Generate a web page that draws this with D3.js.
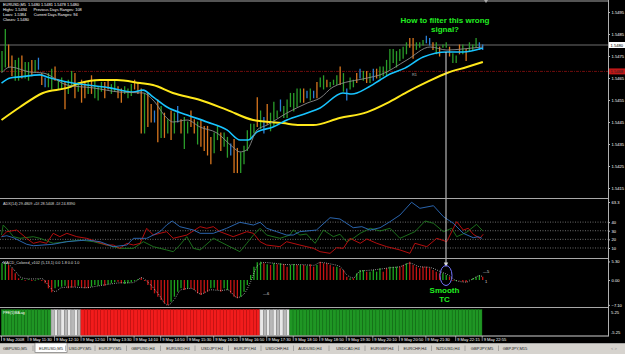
<!DOCTYPE html>
<html>
<head>
<meta charset="utf-8">
<script src="https://cdnjs.cloudflare.com/ajax/libs/d3/7.8.5/d3.min.js"></script>
<style>
body { margin: 0; background: #000; }
svg { display: block; font-family: "Liberation Sans", Arial, sans-serif; }
</style>
</head>
<body>
<svg width="625" height="354"></svg>
<script>
// EURUSD M5, 9 May 2008 - bar index 0 = 10:50
var barHigh = [
  1.5477,1.5487,1.5480,1.5475,1.5473,1.5474,1.5475,1.5472,1.5472,1.5473,
  1.5473,1.5474,1.5467,1.5465,1.5467,1.5469,1.5470,1.5464,1.5465,1.5463,
  1.5464,1.5468,1.5467,1.5463,1.5464,1.5463,1.5463,1.5466,1.5464,1.5461,
  1.5463,1.5463,1.5464,1.5462,1.5464,1.5461,1.5460,1.5461,1.5460,1.5462,
  1.5464,1.5463,1.5460,1.5458,1.5458,1.5453,1.5450,1.5455,1.5452,1.5449,
  1.5446,1.5450,1.5449,1.5452,1.5446,1.5447,1.5445,1.5450,1.5446,1.5445,
  1.5446,1.5443,1.5443,1.5438,1.5440,1.5443,1.5440,1.5440,1.5438,1.5435,
  1.5437,1.5433,1.5431,1.5434,1.5441,1.5444,1.5444,1.5456,1.5450,1.5447,
  1.5453,1.5449,1.5454,1.5450,1.5455,1.5452,1.5455,1.5458,1.5458,1.5460,
  1.5460,1.5460,1.5459,1.5460,1.5459,1.5463,1.5465,1.5466,1.5464,1.5463,
  1.5464,1.5466,1.5470,1.5467,1.5460,1.5465,1.5464,1.5467,1.5469,1.5468,
  1.5468,1.5467,1.5469,1.5469,1.5470,1.5470,1.5473,1.5478,1.5478,1.5477,
  1.5478,1.5479,1.5481,1.5483,1.5483,1.5481,1.5481,1.5482,1.5484,1.5483,
  1.5481,1.5481,1.5479,1.5480,1.5481,1.5479,1.5476,1.5475,1.5480,1.5480,
  1.5478,1.5481,1.5480,1.5483,1.5481,1.5480
];
var barLow = [
  1.5468,1.5470,1.5470,1.5466,1.5464,1.5464,1.5465,1.5465,1.5464,1.5466,
  1.5468,1.5469,1.5462,1.5461,1.5461,1.5460,1.5464,1.5460,1.5460,1.5451,
  1.5458,1.5461,1.5456,1.5459,1.5454,1.5456,1.5458,1.5458,1.5456,1.5455,
  1.5459,1.5456,1.5460,1.5458,1.5459,1.5456,1.5454,1.5458,1.5456,1.5457,
  1.5460,1.5458,1.5440,1.5440,1.5443,1.5445,1.5445,1.5436,1.5438,1.5438,
  1.5440,1.5437,1.5440,1.5445,1.5440,1.5433,1.5440,1.5443,1.5440,1.5435,
  1.5434,1.5432,1.5430,1.5426,1.5431,1.5437,1.5432,1.5434,1.5429,1.5430,
  1.5422,1.5422,1.5422,1.5426,1.5432,1.5437,1.5440,1.5443,1.5442,1.5440,
  1.5444,1.5441,1.5443,1.5447,1.5450,1.5447,1.5447,1.5452,1.5450,1.5452,
  1.5454,1.5454,1.5456,1.5455,1.5456,1.5456,1.5461,1.5460,1.5461,1.5461,
  1.5462,1.5462,1.5462,1.5459,1.5455,1.5460,1.5461,1.5463,1.5465,1.5464,
  1.5463,1.5463,1.5464,1.5465,1.5465,1.5466,1.5466,1.5469,1.5472,1.5470,
  1.5473,1.5474,1.5476,1.5479,1.5474,1.5478,1.5479,1.5480,1.5481,1.5480,
  1.5478,1.5476,1.5475,1.5479,1.5479,1.5475,1.5472,1.5472,1.5476,1.5476,
  1.5473,1.5477,1.5478,1.5479,1.5478,1.5478
];
// g = up colour, o = down colour, b = blue
var barKind = ("ggooggoggo" + "gbobggoggo" + "ggogoogogg" + "googgooggg" + "ooogoobogo" +
  "gogboggoog" + "ooooggoggb" + "oogggggogb" + "ogggbggggg" + "gobgboggog" +
  "ggogbggobg" + "ogbogggggg" + "gggoogggbb" + "ogoggoggog" + "ogggbb").split("");

// moving averages, [bar index, price]
var maFastIdx = [0, 2.6, 8.6, 12.5, 19.8, 27.6, 35.7, 42.7, 45.7, 49.9, 51.7, 56, 59.9, 65, 69.8, 71.9, 74, 77.1, 80.1, 86.1, 92.2, 96.1, 100, 110.3, 114.2, 122.3, 129.3, 134.4, 139.2, 145.2];
var maFastVal = [1.54673, 1.54700, 1.54677, 1.54673, 1.54618, 1.54605, 1.54586, 1.54582, 1.54550, 1.54468, 1.54450, 1.54459, 1.54427, 1.54400, 1.54336, 1.54314, 1.54323, 1.54414, 1.54436, 1.54491, 1.54536, 1.54559, 1.54609, 1.54650, 1.54664, 1.54732, 1.54791, 1.54777, 1.54782, 1.54791];
var maMidIdx = [0, 2.6, 5.6, 11.6, 13.7, 19.8, 25.8, 32.7, 39.7, 42.7, 45.7, 49.9, 56, 62, 68, 72, 74.4, 77.1, 81.9, 86.1, 92.2, 96.1, 103, 105.7, 110.3, 114.2, 117.2, 121.7, 127.2, 134.4, 139.2, 145.2];
var maMidVal = [1.54627, 1.54650, 1.54655, 1.54664, 1.54655, 1.54632, 1.54618, 1.54605, 1.54586, 1.54595, 1.54564, 1.54518, 1.54482, 1.54450, 1.54414, 1.54368, 1.54368, 1.54405, 1.54427, 1.54459, 1.54491, 1.54514, 1.54582, 1.54577, 1.54605, 1.54641, 1.54668, 1.54695, 1.54745, 1.54768, 1.54768, 1.54786];
var maSlowIdx = [0, 5.6, 12.5, 19.8, 23.7, 29.7, 34.8, 41.8, 45.7, 51.7, 59.9, 68, 75.9, 84.9, 90, 94, 102, 110.3, 116.3, 122.3, 128.4, 134.4, 140.4, 145.2];
var maSlowVal = [1.54459, 1.54518, 1.54582, 1.54605, 1.54627, 1.54641, 1.54641, 1.54627, 1.54618, 1.54582, 1.54550, 1.54505, 1.54459, 1.54445, 1.54436, 1.54436, 1.54468, 1.54495, 1.54536, 1.54586, 1.54632, 1.54673, 1.54700, 1.54723];

var priceTicks = [1.5415, 1.5425, 1.5435, 1.5445, 1.5455, 1.5465, 1.5475, 1.5485, 1.5495];
var lastPrice = 1.5480, pivotR1 = 1.5468;

// ADX(14)
var adxIdx = [0, 1.6, 3.6, 7.6, 9.6, 15.6, 19.7, 25.7, 29.7, 33.7, 37.8, 39.8, 43.8, 47.8, 49.8, 51.5, 53.8, 57.9, 59.9, 63.9, 67.9, 71.9, 76, 78, 80, 83, 86, 88, 90, 95, 99.1, 102.1, 106.1, 108.7, 111.2, 114.2, 117.2, 120.2, 123.7, 126.2, 130.3, 133.3, 136.3, 139.3, 142.3, 143.8, 144.9];
var adxVal = [23.1, 24.2, 21.9, 14.3, 12.6, 14.3, 17.3, 19.2, 17.3, 11.5, 13.4, 21.2, 21.2, 28.9, 36.6, 41.3, 34.7, 30.8, 27.0, 27.0, 32.8, 39.8, 36.6, 39.8, 32.8, 28.9, 25.0, 25.0, 28.9, 30.8, 45.1, 43.6, 33.5, 34.7, 30.8, 33.5, 40.5, 48.2, 63.0, 56.0, 59.0, 46.3, 38.6, 27.0, 21.9, 23.1, 21.2];
var plusDiIdx = [0, 0.5, 2, 3.6, 5.6, 9.6, 11.6, 15.6, 19.7, 23.7, 27.7, 31.7, 35.7, 39.8, 42.8, 45.8, 49.8, 51.8, 53.8, 55.9, 57.9, 59.9, 63.9, 67.9, 71.9, 74, 76, 78, 80, 84, 87, 88, 90, 92, 94.6, 97.1, 100.1, 102.1, 104.1, 106.1, 108.2, 111.2, 114.2, 117.2, 120.2, 124.7, 127.8, 130.3, 133.3, 135.8, 137.3, 140.3, 143.3, 145.2];
var plusDiVal = [25.0, 36.6, 30.8, 23.1, 21.2, 23.1, 21.2, 15.4, 17.3, 19.2, 17.3, 13.4, 9.6, 9.6, 17.3, 11.5, 7.7, 5.7, 13.4, 23.1, 9.6, 7.7, 21.2, 13.4, 5.7, 15.4, 25.0, 32.8, 25.0, 21.2, 25.0, 30.8, 25.0, 26.2, 15.4, 30.8, 23.1, 25.9, 17.3, 21.2, 27.0, 32.8, 29.7, 32.8, 21.2, 28.9, 41.3, 38.6, 28.9, 32.8, 23.1, 28.2, 37.4, 29.7];
var minusDiIdx = [0, 1.6, 4.6, 7.6, 9.6, 11.6, 13.6, 15.6, 17.6, 19.7, 22.7, 25.7, 28.7, 31.7, 33.7, 35.7, 37.8, 39.8, 41.8, 43.8, 45.8, 47.8, 49.8, 51.8, 55.9, 59.9, 61.9, 63.9, 65.9, 69.9, 74, 76, 78, 80, 84, 86, 90, 94.1, 96.1, 99.1, 101.1, 103.1, 105.1, 108.2, 110.2, 113.2, 116.2, 120.2, 123.2, 124.7, 128.3, 131.3, 134.3, 137.3, 139.3, 140.8, 142.3, 144.3, 145.3];
var minusDiVal = [23.1, 28.9, 30.8, 21.2, 15.4, 17.3, 15.4, 27.0, 23.1, 27.0, 23.1, 21.2, 17.3, 13.4, 13.4, 9.6, 15.4, 13.4, 15.4, 32.8, 25.0, 27.0, 28.9, 21.2, 25.0, 34.7, 32.8, 34.7, 28.9, 23.1, 28.9, 27.0, 17.3, 13.4, 11.5, 17.3, 13.4, 9.6, 5.7, 3.8, 10.3, 9.6, 21.2, 15.4, 20.4, 15.4, 11.5, 7.7, 3.8, 15.4, 11.5, 21.2, 17.3, 40.5, 30.8, 32.8, 25.9, 21.2, 25.9];
var adxLevels = [10, 20, 30, 40];

// MACD_Colored histogram, one value per bar; colour g rising / r falling
var macdHist = [
  4.76, 4.76, 4.29, 3.33, 1.90, 0.48, 0.30, -0.20, 0.20, -0.30,
  -0.20, 0.20, -0.30, -0.95, -2.38, -3.52, -2.38, -1.90, -1.90, -1.62,
  -2.38, -2.19, -1.90, -1.62, -2.10, -2.38, -2.38, -1.90, -1.43, -1.62,
  -1.43, -1.62, -1.24, -0.95, -0.67, -0.48, -0.95, -1.14, -0.95, -0.67,
  -0.29, 0.29, 0.67, -0.29, -1.43, -2.86, -3.81, -4.76, -5.71, -6.67,
  -7.14, -6.19, -4.76, -3.33, -2.38, -2.86, -2.38, -2.38, -2.86, -3.81,
  -4.29, -3.81, -3.33, -2.38, -2.19, -2.86, -3.33, -2.38, -2.86, -3.81,
  -4.76, -5.24, -4.76, -3.33, -1.43, 1.43, 3.81, 5.05, 5.24, 4.76,
  4.48, 4.29, 4.76, 4.48, 4.76, 4.57, 3.81, 4.29, 4.57, 4.29,
  4.29, 4.29, 4.10, 4.48, 3.81, 4.29, 5.24, 4.76, 4.76, 4.29,
  3.81, 3.81, 3.33, 2.86, 0.95, 0.48, 0.48, 1.90, 2.86, 2.86,
  2.38, 2.38, 2.86, 2.38, 3.33, 2.38, 3.33, 3.81, 3.81, 3.81,
  3.81, 4.29, 4.76, 5.24, 4.29, 3.81, 3.33, 3.81, 3.81, 3.33,
  2.86, 2.38, 1.90, 1.90, 1.43, 0.95, -0.19, -0.29, -0.10, -0.48,
  -0.67, 0.10, 0.48, 0.95, 1.43, 0.95
];
var macdColor = ("ggrrrrgrgr" + "ggrrrrgggg" + "rrrgrrrggg" + "grgggrrggg" + "ggrrrrrrrr" +
  "rggggrgrrr" + "rrrggrrggr" + "rrgggggggr" + "grgrgrrggr" + "grgrrgrrrr" +
  "rgrrrgrggg" + "rggggrrggg" + "rrgrrrrrrr" + "rrrggrrgrr" + "rggggr").split("");
var signalIdx = [0, 2, 4, 6, 9, 12, 14, 16, 18, 21, 25, 29, 33, 36, 39, 41, 42, 44, 47, 50, 52, 54, 57, 60, 63, 66, 68, 71, 73, 75, 77, 79, 82, 86, 90, 94, 96, 99, 102, 104, 106, 108, 111, 114, 117, 120, 123, 126, 129, 132, 135, 137, 140, 142, 144, 145];
var signalVal = [5.0, 4.5, 2.5, 0.6, 0.3, 0.4, -1.5, -3.3, -2.2, -2.0, -2.2, -1.7, -1.1, -0.8, -0.8, 0.0, 0.7, -0.6, -3.8, -7.2, -5.5, -2.8, -2.4, -4.0, -2.8, -3.0, -2.8, -5.0, -4.0, -0.5, 4.0, 5.0, 4.8, 4.4, 4.4, 4.2, 5.0, 4.6, 3.8, 1.5, 0.6, 2.5, 2.8, 3.1, 3.5, 3.8, 4.8, 3.8, 3.6, 2.5, 1.2, -0.2, -0.6, 0.3, 1.2, 1.0];

// PFE colour state per bar: G up, N flat, R down
var pfeState = ("GGGGGGGGGGGGGGG" + "NNNNNNNNN" +
  "RRRRRRRRRRRRRRRRRRRRRRRRRRRRRRRRRRRRRRRRRRRRRRRRRRRRRR" + "NNNNNNNNN" +
  "GGGGGGGGGGGGGGGGGGGGGGGGGGGGGGGGGGGGGGGGGGGGGGGGGGGGGGGGGG").split("");

var timeTickIdx = [0, 8, 16, 24, 32, 40, 48, 56, 64, 72, 80, 88, 96, 104, 112, 120, 128, 137, 145];
var timeTickLbl = ["9 May 2008", "9 May 11:30", "9 May 12:10", "9 May 12:50", "9 May 13:30", "9 May 14:10",
  "9 May 14:50", "9 May 15:30", "9 May 16:10", "9 May 16:50", "9 May 17:30", "9 May 18:10", "9 May 18:50",
  "9 May 19:30", "9 May 20:10", "9 May 20:50", "9 May 21:30", "9 May 22:15", "9 May 22:55"];

var tabNames = ["GBPUSD,M5", "EURUSD,M5", "USDJPY,M5", "EURJPY,M5", "GBPUSD,H4", "EURUSD,H4", "USDJPY,H4", "EURJPY,H4",
  "USDCHF,H4", "AUDUSD,H4", "USDCAD,H4", "EURGBP,H4", "EURCHF,H4", "NZDUSD,H4", "GBPJPY,M5", "GBPJPY,M15"];
var tabCenters = [15, 51, 80, 110, 143, 178, 212, 245, 277, 310, 348, 382, 415, 448, 482, 515];

var svg = d3.select("svg");
var plotR = 608;
var fs = 4.1;

svg.append("rect").attr("width", 625).attr("height", 354).attr("fill", "#000");

var x = d3.scaleLinear().domain([0, 145]).range([1.5, 482.2]);

// ---------- main price panel ----------
var yP = d3.scaleLinear().domain([1.5415, 1.5495]).range([188, 12]);

var axP = svg.append("g").attr("transform", "translate(" + plotR + ",0)")
  .call(d3.axisRight(yP).tickValues(priceTicks).tickFormat(d3.format(".4f")).tickSize(2).tickPadding(1.5));
axP.select(".domain").remove();
axP.selectAll("line").attr("stroke", "#bbb");
axP.selectAll("text").attr("fill", "#fff").attr("font-size", fs).attr("font-family", "Liberation Sans");

// current price + R1 lines
svg.append("line").attr("x1", 0).attr("x2", plotR).attr("y1", yP(lastPrice)).attr("y2", yP(lastPrice))
  .attr("stroke", "#8a8a8a").attr("stroke-width", 0.8);
svg.append("line").attr("x1", 0).attr("x2", plotR).attr("y1", yP(pivotR1)).attr("y2", yP(pivotR1))
  .attr("stroke", "#8b1010").attr("stroke-width", 0.8).attr("stroke-dasharray", "3,1,1,1");
svg.append("text").attr("x", 412).attr("y", yP(pivotR1) + 5).attr("fill", "#bbb").attr("font-size", 3.8).text("R1");

// bars
svg.append("g").selectAll("line").data(d3.range(barHigh.length)).join("line")
  .attr("x1", function(i) { return x(i) + 0.5; })
  .attr("x2", function(i) { return x(i) + 0.5; })
  .attr("y1", function(i) { return yP(barHigh[i]) - 0.5; })
  .attr("y2", function(i) { return yP(barLow[i]) + 0.5; })
  .attr("stroke", function(i) { return { g: "#2a9d2a", o: "#d9761e", b: "#2a7fd6" }[barKind[i]]; })
  .attr("stroke-width", 1.3);

var maLine = d3.line()
  .x(function(d) { return x(d[0]); })
  .y(function(d) { return yP(d[1]); })
  .curve(d3.curveMonotoneX);

svg.append("path").datum(d3.zip(maSlowIdx, maSlowVal)).attr("d", maLine)
  .attr("fill", "none").attr("stroke", "#ffe81a").attr("stroke-width", 2);
svg.append("path").datum(d3.zip(maMidIdx, maMidVal)).attr("d", maLine)
  .attr("fill", "none").attr("stroke", "#18c4ff").attr("stroke-width", 1.6);
svg.append("path").datum(d3.zip(maFastIdx, maFastVal)).attr("d", maLine)
  .attr("fill", "none").attr("stroke", "#8c8c8c").attr("stroke-width", 0.9);

// price boxes on the axis
function priceBox(v, bg, fg) {
  svg.append("rect").attr("x", plotR + 1).attr("y", yP(v) - 3).attr("width", 16).attr("height", 6).attr("fill", bg);
  svg.append("text").attr("x", plotR + 2.5).attr("y", yP(v) + 1.6).attr("fill", fg).attr("font-size", fs).text(d3.format(".4f")(v));
}
priceBox(lastPrice, "#fff", "#000");
priceBox(pivotR1, "#c01818", "#222");

// header
var hdr = ["EURUSD,M5  1.5480 1.5481 1.5478 1.5480",
  "Highs: 1.5494      Previous Days Ranges: 108",
  "Lows: 1.5384       Current Days Ranges: 94",
  "Closes: 1.5480"];
svg.append("g").selectAll("text").data(hdr).join("text")
  .attr("x", 3).attr("y", function(d, i) { return 6 + i * 5; })
  .attr("fill", "#fff").attr("font-size", 3.9).attr("xml:space", "preserve").text(function(d) { return d; });

// annotation
svg.append("text").attr("x", 445).attr("y", 22.5).attr("text-anchor", "middle").attr("fill", "#22ee22")
  .attr("font-weight", "bold").attr("font-size", 8).text("How to filter this wrong");
svg.append("text").attr("x", 445).attr("y", 31.5).attr("text-anchor", "middle").attr("fill", "#22ee22")
  .attr("font-weight", "bold").attr("font-size", 8).text("signal?");

// ---------- ADX panel ----------
var yA = d3.scaleLinear().domain([0, 40]).range([256.6, 222.1]);
svg.append("g").selectAll("line").data(adxLevels).join("line")
  .attr("x1", 0).attr("x2", plotR).attr("y1", yA).attr("y2", yA)
  .attr("stroke", "#9a9a9a").attr("stroke-width", 0.7).attr("stroke-dasharray", "1,1.5");
var adxLine = d3.line().x(function(d) { return x(d[0]); }).y(function(d) { return yA(d[1]); });
svg.append("path").datum(d3.zip(plusDiIdx, plusDiVal)).attr("d", adxLine).attr("fill", "none").attr("stroke", "#1f7a1f").attr("stroke-width", 0.9);
svg.append("path").datum(d3.zip(minusDiIdx, minusDiVal)).attr("d", adxLine).attr("fill", "none").attr("stroke", "#c81010").attr("stroke-width", 0.9);
svg.append("path").datum(d3.zip(adxIdx, adxVal)).attr("d", adxLine).attr("fill", "none").attr("stroke", "#2f6fc0").attr("stroke-width", 0.9);
svg.append("text").attr("x", 3).attr("y", 205).attr("fill", "#ddd").attr("font-size", 3.8)
  .text("ADX(14) 29.4809 +DI 28.5408 -DI 24.8390");
var axA = svg.append("g").attr("transform", "translate(" + plotR + ",0)")
  .call(d3.axisRight(yA).tickValues([10, 20, 30, 40, 63.3]).tickFormat(function(d) { return d > 50 ? "63.3" : d; }).tickSize(2).tickPadding(1.5));
axA.select(".domain").remove();
axA.selectAll("line").attr("stroke", "#bbb");
axA.selectAll("text").attr("fill", "#fff").attr("font-size", fs);

// ---------- MACD panel ----------
var yM = d3.scaleLinear().domain([0, 5]).range([280, 262.5]);
svg.append("g").selectAll("line").data(d3.range(macdHist.length)).join("line")
  .attr("x1", function(i) { return x(i) + 0.5; })
  .attr("x2", function(i) { return x(i) + 0.5; })
  .attr("y1", yM(0))
  .attr("y2", function(i) { return yM(macdHist[i]); })
  .attr("stroke", function(i) { return macdColor[i] === "g" ? "#1ea81e" : "#c81414"; })
  .attr("stroke-width", 1.3);
var sigLine = d3.line().x(function(d) { return x(d[0]) + 0.5; }).y(function(d) { return yM(d[1]); }).curve(d3.curveMonotoneX);
svg.append("path").datum(d3.zip(signalIdx, signalVal)).attr("d", sigLine)
  .attr("fill", "none").attr("stroke", "#e0e0e0").attr("stroke-width", 0.8).attr("stroke-dasharray", "0.8,1.4");
svg.append("text").attr("x", 3).attr("y", 264).attr("fill", "#ddd").attr("font-size", 3.8)
  .text("MACD_Colored_v102 (5,13,1) 0.0 1.8 0.0 1.0");
var axM = svg.append("g").attr("transform", "translate(" + plotR + ",0)")
  .call(d3.axisRight(yM).tickValues([5.3, 0, -7.1]).tickFormat(d3.format(".2f")).tickSize(2).tickPadding(1.5));
axM.select(".domain").remove();
axM.selectAll("line").attr("stroke", "#bbb");
axM.selectAll("text").attr("fill", "#fff").attr("font-size", fs);
svg.append("text").attr("x", 263).attr("y", 295).attr("fill", "#ddd").attr("font-size", 4).text("—6");
svg.append("text").attr("x", 483).attr("y", 273).attr("fill", "#ddd").attr("font-size", 4).text("—5");
svg.append("text").attr("x", 485).attr("y", 283).attr("fill", "#ddd").attr("font-size", 4).text("1");

// arrow + ellipse annotation
svg.append("line").attr("x1", 446).attr("x2", 446).attr("y1", 52).attr("y2", 264)
  .attr("stroke", "#d8d8d8").attr("stroke-width", 1);
svg.append("path").attr("d", "M443.8,262.5L448.2,262.5L446,267Z").attr("fill", "#d8d8d8");
svg.append("ellipse").attr("cx", 446).attr("cy", 275.5).attr("rx", 6).attr("ry", 10)
  .attr("fill", "none").attr("stroke", "#7474ff").attr("stroke-width", 1);
svg.append("text").attr("x", 444.5).attr("y", 293).attr("text-anchor", "middle").attr("fill", "#22ee22")
  .attr("font-weight", "bold").attr("font-size", 8).text("Smooth");
svg.append("text").attr("x", 444.5).attr("y", 302).attr("text-anchor", "middle").attr("fill", "#22ee22")
  .attr("font-weight", "bold").attr("font-size", 8).text("TC");

// ---------- PFE panel ----------
var step = x(1) - x(0);
svg.append("g").selectAll("rect").data(d3.range(pfeState.length)).join("rect")
  .attr("x", function(i) { return x(i) - 0.2; })
  .attr("y", 309.5).attr("width", step).attr("height", 26)
  .attr("fill", function(i) {
    var s = pfeState[i];
    if (s === "G") return "#1f9624";
    if (s === "R") return "#f21c1c";
    return i % 2 ? "#b8b8b8" : "#e8e8e8";
  })
  .attr("stroke", function(i) { var s = pfeState[i]; return s === "G" ? "#146e18" : s === "R" ? "#c41212" : "#8a8a8a"; })
  .attr("stroke-width", 0.4);
svg.append("text").attr("x", 3).attr("y", 313.5).attr("fill", "#fff").attr("font-size", 3.6).text("PFE(5)MA.ag");
svg.append("text").attr("x", plotR + 3).attr("y", 313.5).attr("fill", "#fff").attr("font-size", fs).text("5.25");
svg.append("text").attr("x", plotR + 3).attr("y", 334).attr("fill", "#fff").attr("font-size", fs).text("-5.25");

// ---------- frame ----------
[1, 198.5, 258.5, 307.5].forEach(function(yy) {
  svg.append("line").attr("x1", 0).attr("x2", plotR).attr("y1", yy).attr("y2", yy).attr("stroke", "#a8a8a8").attr("stroke-width", 1.2);
});
svg.append("line").attr("x1", 0).attr("x2", plotR + 1).attr("y1", 336).attr("y2", 336).attr("stroke", "#d0d0d0").attr("stroke-width", 1);
svg.append("line").attr("x1", plotR + 0.5).attr("x2", plotR + 0.5).attr("y1", 0).attr("y2", 336).attr("stroke", "#b0b0b0").attr("stroke-width", 1);
svg.append("path").attr("d", "M484,0L488,0L486,3Z").attr("fill", "#aaa");

// ---------- time axis ----------
var tg = svg.append("g").selectAll("g").data(timeTickIdx).join("g")
  .attr("transform", function(d) { return "translate(" + x(d) + ",0)"; });
tg.append("line").attr("y1", 336).attr("y2", 341).attr("stroke", "#ddd").attr("stroke-width", 0.6);
tg.append("text").attr("x", 1.5).attr("y", 341).attr("fill", "#fff").attr("font-size", fs)
  .text(function(d, i) { return timeTickLbl[i]; });

// ---------- tab bar ----------
svg.append("rect").attr("x", 0).attr("y", 343).attr("width", 625).attr("height", 11).attr("fill", "#d6d3ce");
svg.append("line").attr("x1", 0).attr("x2", 625).attr("y1", 343.5).attr("y2", 343.5).attr("stroke", "#888").attr("stroke-width", 0.6);
svg.append("rect").attr("x", 35).attr("y", 343).attr("width", 32).attr("height", 9.5)
  .attr("fill", "#fff").attr("stroke", "#666").attr("stroke-width", 0.6);
svg.append("g").selectAll("text").data(tabNames).join("text")
  .attr("x", function(d, i) { return tabCenters[i]; }).attr("y", 350).attr("text-anchor", "middle")
  .attr("fill", "#222").attr("font-size", fs).text(function(d) { return d; });
svg.append("g").selectAll("line").data(d3.range(1, tabCenters.length)).join("line")
  .attr("x1", function(i) { return (tabCenters[i] + tabCenters[i - 1]) / 2; })
  .attr("x2", function(i) { return (tabCenters[i] + tabCenters[i - 1]) / 2; })
  .attr("y1", 345.5).attr("y2", 351).attr("stroke", "#777").attr("stroke-width", 0.5);
svg.append("text").attr("x", 611).attr("y", 350).attr("fill", "#888").attr("font-size", fs).text("<  >");
</script>
</body>
</html>
